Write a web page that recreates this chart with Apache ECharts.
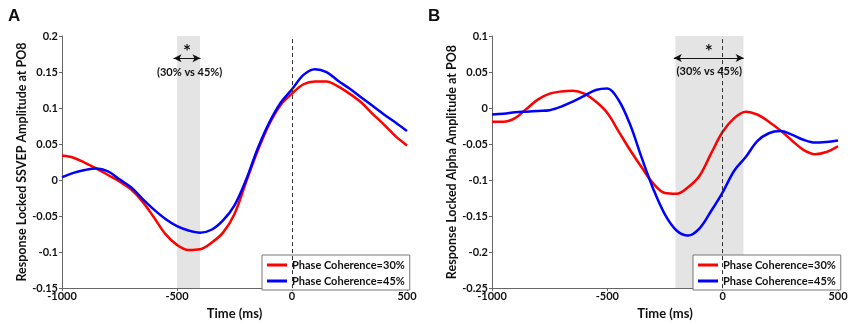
<!DOCTYPE html>
<html>
<head>
<meta charset="utf-8">
<script src="https://cdn.jsdelivr.net/npm/echarts@6/dist/echarts.min.js"></script>
<style>
  html, body { margin: 0; padding: 0; background: #fff; }
  #chart { width: 851px; height: 325px; }
</style>
</head>
<body>
<div id="chart"></div>
<script>
// time axis (ms), shared by both panels
const times = [-1000, -950, -900, -850, -800, -750, -700, -650, -600, -550, -500, -450, -400, -350, -300, -250,
  -200, -150, -100, -50, 0, 50, 100, 150, 200, 250, 300, 350, 400, 450, 500];

// panel A: response locked SSVEP amplitude at PO8
const ssvep30 = [0.034, 0.031, 0.024, 0.016, 0.007, -0.002, -0.013, -0.030, -0.052, -0.075, -0.090, -0.097, -0.096,
  -0.087, -0.073, -0.047, -0.003, 0.040, 0.077, 0.104, 0.120, 0.133, 0.137, 0.137, 0.130, 0.120, 0.108, 0.092, 0.077,
  0.061, 0.048];
const ssvep45 = [0.004, 0.010, 0.014, 0.016, 0.012, 0.001, -0.010, -0.026, -0.041, -0.054, -0.064, -0.070, -0.073,
  -0.069, -0.056, -0.035, 0.000, 0.043, 0.079, 0.107, 0.126, 0.146, 0.154, 0.150, 0.138, 0.127, 0.115, 0.103, 0.091,
  0.080, 0.068];

// panel B: response locked alpha amplitude at PO8
const alpha30 = [-0.019, -0.019, -0.014, -0.001, 0.012, 0.020, 0.023, 0.024, 0.020, 0.009, -0.007, -0.033, -0.059,
  -0.083, -0.105, -0.118, -0.119, -0.110, -0.094, -0.063, -0.033, -0.014, -0.005, -0.009, -0.019, -0.031, -0.045,
  -0.058, -0.064, -0.061, -0.053];
const alpha45 = [-0.009, -0.008, -0.006, -0.005, -0.004, -0.003, 0.002, 0.009, 0.017, 0.025, 0.027, 0.0105, -0.024,
  -0.070, -0.113, -0.148, -0.170, -0.177, -0.167, -0.143, -0.117, -0.087, -0.068, -0.046, -0.035, -0.032, -0.037,
  -0.044, -0.048, -0.047, -0.045];

const xTicks = [-1000, 500, 500]; // min, max, interval
const yRangeA = [-0.15, 0.2];
const yRangeB = [-0.25, 0.1];
const bandA = [-500, -400];
const bandB = [-205, 90];
const arrowA = [-515, -398, 0.169];
const arrowB = [-212, 91, 0.0695];
const noteA = [-445, 0.150];
const noteB = [-58, 0.0507];

const name30 = 'Phase Coherence=30%';
const name45 = 'Phase Coherence=45%';
const FONT = 'Lato';

const chart = echarts.init(document.getElementById('chart'));

function pairs(vals) {
  return times.map((t, i) => [t, vals[i]]);
}

function xAxisFor(idx) {
  return {
    type: 'value',
    gridIndex: idx,
    min: xTicks[0],
    max: xTicks[1],
    interval: xTicks[2],
    name: 'Time (ms)',
    nameLocation: 'middle',
    nameGap: 14,
    nameTextStyle: { fontSize: 13, fontWeight: 'bold', color: '#111', fontFamily: FONT },
    axisLine: { onZero: false, lineStyle: { color: '#666', width: 1 } },
    axisTick: { inside: false, length: 3, lineStyle: { color: '#666' } },
    axisLabel: {
      fontSize: 11, fontWeight: 'bold', color: '#111', margin: 3, fontFamily: FONT,
      formatter: v => String(v)
    },
    splitLine: { show: false }
  };
}

function yAxisFor(idx, range, title) {
  return {
    type: 'value',
    gridIndex: idx,
    min: range[0],
    max: range[1],
    interval: 0.05,
    name: title,
    nameLocation: 'middle',
    nameRotate: 90,
    nameGap: 31,
    nameTextStyle: { fontSize: 12.5, fontWeight: 'bold', color: '#111', fontFamily: FONT },
    axisLine: { onZero: false, lineStyle: { color: '#666', width: 1 } },
    axisTick: { inside: false, length: 3, lineStyle: { color: '#666' } },
    axisLabel: { fontSize: 11, fontWeight: 'bold', color: '#111', margin: 4, fontFamily: FONT },
    splitLine: { show: false }
  };
}

function legendAt(left) {
  return {
    data: [name30, name45],
    left: left,
    top: 255,
    orient: 'vertical',
    icon: 'rect',
    itemWidth: 20,
    itemHeight: 3,
    itemGap: 2,
    padding: [3, 5, 2, 5],
    borderColor: '#777',
    borderWidth: 1,
    backgroundColor: '#fff',
    textStyle: { fontSize: 11, fontWeight: 'bold', color: '#111', lineHeight: 14, fontFamily: FONT }
  };
}

function curve(name, vals, idx, color, extra) {
  return Object.assign({
    name: name,
    type: 'line',
    xAxisIndex: idx,
    yAxisIndex: idx,
    data: pairs(vals),
    smooth: 0.35,
    symbol: 'none',
    lineStyle: { color: color, width: 2.5 },
    itemStyle: { color: color }
  }, extra);
}

function bandAndZero(band) {
  return {
    markArea: {
      silent: true,
      itemStyle: { color: '#e4e4e4' },
      data: [[{ xAxis: band[0] }, { xAxis: band[1] }]]
    },
    markLine: {
      silent: true,
      symbol: ['none', 'none'],
      label: { show: false },
      lineStyle: { color: '#333', type: [4, 3], width: 1 },
      data: [{ xAxis: 0 }]
    }
  };
}

function arrowNote(arrow, note) {
  return {
    markLine: {
      silent: true,
      symbol: ['arrow', 'arrow'],
      symbolSize: [6, 8],
      lineStyle: { color: '#111', type: 'solid', width: 1 },
      label: {
        show: true,
        formatter: '*',
        position: 'insideMiddleTop',
        distance: -3,
        color: '#111',
        fontSize: 19,
        fontWeight: 'bold',
        fontFamily: FONT
      },
      data: [[{ coord: [arrow[0], arrow[2]] }, { coord: [arrow[1], arrow[2]] }]]
    },
    markPoint: {
      silent: true,
      symbol: 'circle',
      symbolSize: 1,
      itemStyle: { color: 'rgba(0,0,0,0)' },
      label: {
        show: true,
        position: 'inside',
        formatter: '(30% vs 45%)',
        color: '#111',
        fontSize: 11,
        fontWeight: 'bold',
        fontFamily: FONT
      },
      data: [{ coord: note }]
    }
  };
}

const option = {
  animation: false,
  textStyle: { fontFamily: FONT },
  title: [
    { text: 'A', left: 3, top: 3, textStyle: { fontSize: 17, fontWeight: 'bold', color: '#111', fontFamily: 'Liberation Sans' } },
    { text: 'B', left: 423, top: 3, textStyle: { fontSize: 17, fontWeight: 'bold', color: '#111', fontFamily: 'Liberation Sans' } }
  ],
  grid: [
    { left: 62, top: 36, width: 345, height: 256 },
    { left: 492, top: 36, width: 346, height: 256 }
  ],
  legend: [legendAt(262), legendAt(693)],
  xAxis: [xAxisFor(0), xAxisFor(1)],
  yAxis: [
    yAxisFor(0, yRangeA, 'Response Locked SSVEP Amplitude at PO8'),
    yAxisFor(1, yRangeB, 'Response Locked Alpha Amplitude at PO8')
  ],
  series: [
    curve(name30, ssvep30, 0, '#ff0000', bandAndZero(bandA)),
    curve(name45, ssvep45, 0, '#0000ff', arrowNote(arrowA, noteA)),
    curve(name30, alpha30, 1, '#ff0000', bandAndZero(bandB)),
    curve(name45, alpha45, 1, '#0000ff', arrowNote(arrowB, noteB))
  ]
};

chart.setOption(option);
</script>
</body>
</html>
